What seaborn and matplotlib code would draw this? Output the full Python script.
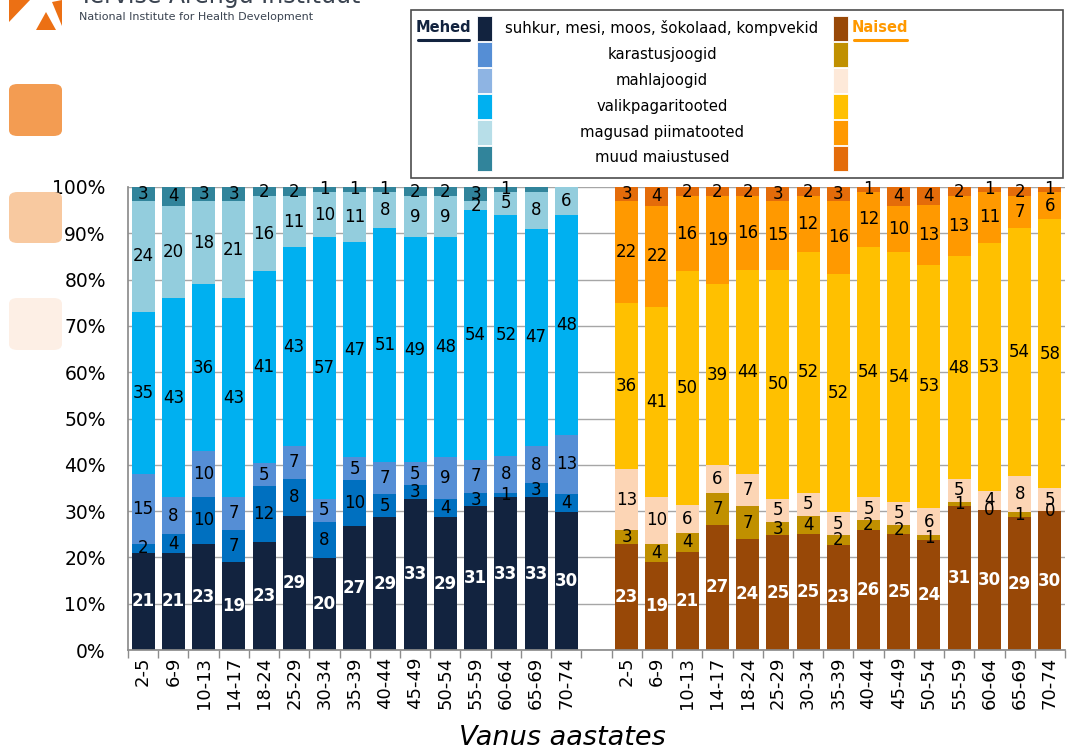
import matplotlib
matplotlib.use("Agg")  # headless
import matplotlib.pyplot as plt
import numpy as np
import pandas as pd
import seaborn as sns
from matplotlib.patches import FancyBboxPatch, Polygon, Rectangle
from matplotlib.ticker import FixedLocator, NullFormatter

# ---------------------------------------------------------------------------
# Data (percent of sweets intake by source)
# ---------------------------------------------------------------------------
AGES = ["2-5", "6-9", "10-13", "14-17", "18-24", "25-29", "30-34", "35-39",
        "40-44", "45-49", "50-54", "55-59", "60-64", "65-69", "70-74"]

CATEGORIES = ["suhkur, mesi, moos, šokolaad, kompvekid", "karastusjoogid",
              "mahlajoogid", "valikpagaritooted", "magusad piimatooted",
              "muud maiustused"]

MEN_SUHKUR = [21, 21, 23, 19, 23, 29, 20, 27, 29, 33, 29, 31, 33, 33, 30]
MEN_KARASTUS = [2, 4, 10, 7, 12, 8, 8, 10, 5, 3, 4, 3, 1, 3, 4]
MEN_MAHL = [15, 8, 10, 7, 5, 7, 5, 5, 7, 5, 9, 7, 8, 8, 13]
MEN_PAGAR = [35, 43, 36, 43, 41, 43, 57, 47, 51, 49, 48, 54, 52, 47, 48]
MEN_PIIM = [24, 20, 18, 21, 16, 11, 10, 11, 8, 9, 9, 2, 5, 8, 6]
MEN_MUUD = [3, 4, 3, 3, 2, 2, 1, 1, 1, 2, 2, 3, 1, 1, 0]

WOMEN_SUHKUR = [23, 19, 21, 27, 24, 25, 25, 23, 26, 25, 24, 31, 30, 29, 30]
WOMEN_KARASTUS = [3, 4, 4, 7, 7, 3, 4, 2, 2, 2, 1, 1, 0, 1, 0]
WOMEN_MAHL = [13, 10, 6, 6, 7, 5, 5, 5, 5, 5, 6, 5, 4, 8, 5]
WOMEN_PAGAR = [36, 41, 50, 39, 44, 50, 52, 52, 54, 54, 53, 48, 53, 54, 58]
WOMEN_PIIM = [22, 22, 16, 19, 16, 15, 12, 16, 12, 10, 13, 13, 11, 7, 6]
WOMEN_MUUD = [3, 4, 2, 2, 2, 3, 2, 3, 1, 4, 4, 2, 1, 2, 1]

# labels that the original leaves out (men, muud maiustused)
MEN_MUUD_HIDDEN = ["65-69", "70-74"]

MEN_BAR_COLORS = ["#12233f", "#0070c0", "#558ed5", "#00b0f0", "#93cddd", "#31849b"]
WOMEN_BAR_COLORS = ["#984807", "#c09000", "#fcd5b5", "#ffc000", "#ff9900", "#e46c0a"]
MEN_KEY_COLORS = ["#12233f", "#558ed5", "#8eb4e3", "#00b0f0", "#b7dee8", "#31849b"]
WOMEN_KEY_COLORS = ["#984807", "#c09000", "#fde9d9", "#ffc000", "#ff9900", "#e46c0a"]

W, H = 1071, 752


def fx(px):
    return px / W


def fy(py):
    return 1 - py / H


def build_frame(values, offset, sex):
    df = pd.DataFrame(np.array(values).T, columns=CATEGORIES)
    df.insert(0, "age", AGES)
    df.insert(0, "pos", np.arange(len(AGES)) + offset)
    df["sex"] = sex
    return df


men = build_frame([MEN_SUHKUR, MEN_KARASTUS, MEN_MAHL, MEN_PAGAR, MEN_PIIM,
                   MEN_MUUD], 0, "Mehed")
women = build_frame([WOMEN_SUHKUR, WOMEN_KARASTUS, WOMEN_MAHL, WOMEN_PAGAR,
                     WOMEN_PIIM, WOMEN_MUUD], len(AGES) + 1, "Naised")

sns.set_theme(style="white")
plt.rcParams["font.family"] = ["DejaVu Sans"]

fig = plt.figure(figsize=(W / 100, H / 100), dpi=100)
ax = fig.add_axes([fx(128), fy(650), fx(1065) - fx(128), fy(187) - fy(650)])

BAR_W = 0.76
for df, colors in ((men, MEN_BAR_COLORS), (women, WOMEN_BAR_COLORS)):
    raw = df[CATEGORIES].to_numpy(dtype=float)
    share = raw / raw.sum(axis=1, keepdims=True) * 100
    tops = share.cumsum(axis=1)
    # draw cumulative tops from the highest layer down so lower ones sit on top
    for k in range(len(CATEGORIES) - 1, -1, -1):
        sns.barplot(x=df["pos"], y=tops[:, k], native_scale=True, width=BAR_W,
                    color=colors[k], saturation=1, errorbar=None,
                    linewidth=0, ax=ax, zorder=2)
    bottoms = tops - share
    for i, age in enumerate(df["age"]):
        for k in range(len(CATEGORIES)):
            if df["sex"].iloc[0] == "Mehed" and k == 5 and age in MEN_MUUD_HIDDEN:
                continue
            mid = bottoms[i, k] + share[i, k] / 2
            ax.text(df["pos"].iloc[i], mid, f"{int(raw[i, k])}",
                    ha="center", va="center", fontsize=12,
                    color="white" if k == 0 else "black",
                    fontweight="bold" if k == 0 else "normal", zorder=3)

# axes cosmetics
ax.set_xlim(-0.5, 2 * len(AGES) + 0.5)
ax.set_ylim(0, 100)
positions = list(men["pos"]) + list(women["pos"])
ax.set_xticks(positions)
ax.set_xticklabels(list(men["age"]) + list(women["age"]), rotation=90,
                   fontsize=13, color="black")
ax.tick_params(axis="x", which="major", length=0, pad=5)
ax.xaxis.set_minor_locator(FixedLocator(np.arange(-0.5, 2 * len(AGES) + 1, 1)))
ax.xaxis.set_minor_formatter(NullFormatter())
ax.tick_params(axis="x", which="minor", length=6, width=1, color="#8c8c8c",
               direction="out", bottom=True)
ax.set_yticks(np.arange(0, 101, 10))
ax.set_yticklabels([f"{v}%" for v in range(0, 101, 10)], fontsize=13.5,
                   color="black")
ax.tick_params(axis="y", length=0, pad=16)
ax.yaxis.grid(True, color="#a6a6a6", linewidth=1, zorder=0)
ax.set_axisbelow(True)
for side in ("top", "right"):
    ax.spines[side].set_visible(False)
ax.spines["left"].set_color("#8c8c8c")
ax.spines["bottom"].set_color("#8c8c8c")
ax.set_xlabel("")
ax.set_ylabel("")

fig.text(fx(562), fy(738), "Vanus aastates", ha="center", va="center",
         fontsize=19.5, style="italic", color="black")

# legend box drawn in figure coordinates
fig.patches.append(Rectangle((fx(411), fy(178)), fx(1063) - fx(411),
                             fy(10) - fy(178), transform=fig.transFigure,
                             facecolor="white", edgecolor="#4d4d4d",
                             linewidth=1.2))
row_y = [28, 54, 80, 106, 132, 158]
for k, label in enumerate(CATEGORIES):
    y0 = row_y[k]
    fig.patches.append(Rectangle((fx(477), fy(y0 + 12.5)), fx(15), fy(0) - fy(25),
                                 transform=fig.transFigure,
                                 facecolor=MEN_KEY_COLORS[k], edgecolor="white",
                                 linewidth=0.6))
    fig.patches.append(Rectangle((fx(833), fy(y0 + 12.5)), fx(15), fy(0) - fy(25),
                                 transform=fig.transFigure,
                                 facecolor=WOMEN_KEY_COLORS[k], edgecolor="white",
                                 linewidth=0.6))
    fig.text(fx(662), fy(y0), label, ha="center", va="center", fontsize=10.7,
             color="black")

fig.text(fx(443), fy(28), "Mehed", ha="center", va="center", fontsize=10.5,
         fontweight="bold", color="#12233f")
fig.add_artist(plt.Line2D([fx(418), fx(469)], [fy(40), fy(40)],
                          color="#12233f", linewidth=2.2))
fig.text(fx(880), fy(28), "Naised", ha="center", va="center", fontsize=10.5,
         fontweight="bold", color="#ff9900")
fig.add_artist(plt.Line2D([fx(854), fx(907)], [fy(40), fy(40)],
                          color="#ff9900", linewidth=2.2))

# slide decorations: logo and rounded squares on the left
for (top, bottom, col) in ((84, 136, "#f39c52"), (192, 243, "#f8c9a0"),
                           (298, 350, "#fdefe5")):
    fig.patches.append(FancyBboxPatch((fx(9), fy(bottom)), fx(53), fy(top) - fy(bottom),
                                      boxstyle="round,pad=0,rounding_size=0.008",
                                      transform=fig.transFigure, facecolor=col,
                                      edgecolor="none"))
for pts in (((9, 0), (30, 0), (9, 22)), ((36, 30), (46, 12), (56, 30)),
            ((52, 2), (62, 0), (62, 26))):
    fig.patches.append(Polygon([(fx(x), fy(y)) for x, y in pts], closed=True,
                               transform=fig.transFigure, facecolor="#ec7014",
                               edgecolor="none"))
fig.text(fx(79), fy(17), "National Institute for Health Development",
         ha="left", va="center", fontsize=8, color="#3a4350")
fig.text(fx(79), fy(3), "Tervise Arengu Instituut", ha="left", va="baseline",
         fontsize=17, color="#3a4350")

fig.savefig("out.png", dpi=100)
